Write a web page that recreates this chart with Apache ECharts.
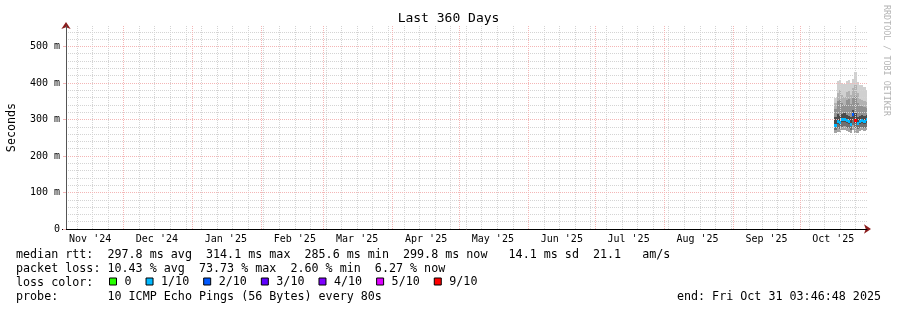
<!DOCTYPE html>
<html><head><meta charset="utf-8">
<script src="https://cdn.jsdelivr.net/npm/echarts@6/dist/echarts.min.js"></script>
<style>html,body{margin:0;padding:0;background:#fff}#c{width:897px;height:310px}</style>
</head><body><div id="c"></div>
<script>
// ---------- data ----------
const endTime = '2025-10-31 03:46:48';
const spanDays = 360;
const yMax = 556;
const yMajorTicks = [0, 100, 200, 300, 400, 500];
const yMinorTicks = [20, 40, 60, 80, 120, 140, 160, 180, 220, 240, 260, 280, 320, 340, 360, 380, 420, 440, 460, 480, 520, 540];
const monthStarts = ['2024-12-01', '2025-01-01', '2025-02-01', '2025-03-01', '2025-04-01', '2025-05-01', '2025-06-01', '2025-07-01', '2025-08-01', '2025-09-01', '2025-10-01'];
const monthLabelDates = ['2024-11-16', '2024-12-16', '2025-01-16', '2025-02-16', '2025-03-16', '2025-04-16', '2025-05-16', '2025-06-16', '2025-07-16', '2025-08-16', '2025-09-16', '2025-10-16'];
const firstSunday = '2024-11-10';

// smoke columns (one per day), values in ms
const colTimes = ['2025-10-16 12:00', '2025-10-17 12:00', '2025-10-18 12:00', '2025-10-19 12:00', '2025-10-20 12:00', '2025-10-21 12:00', '2025-10-22 12:00', '2025-10-23 12:00', '2025-10-24 12:00', '2025-10-25 12:00', '2025-10-26 12:00', '2025-10-27 12:00', '2025-10-28 12:00', '2025-10-29 12:00', '2025-10-30 12:00'];
const pingMin = [262, 266, 265, 270, 272, 268, 266, 262, 270, 262, 264, 268, 270, 268, 270];
const ping2   = [272, 276, 275, 280, 282, 278, 276, 272, 286, 276, 274, 278, 280, 278, 280];
const ping4   = [280, 288, 286, 292, 294, 290, 288, 282, 300, 290, 284, 288, 290, 288, 290];
const ping6   = [306, 314, 310, 316, 318, 312, 310, 308, 326, 320, 306, 310, 312, 310, 312];
const ping8   = [330, 350, 352, 345, 340, 352, 355, 342, 358, 365, 345, 338, 336, 335, 332];
const ping9   = [345, 372, 380, 368, 362, 375, 378, 366, 385, 395, 372, 355, 352, 350, 348];
const pingMax = [360, 404, 408, 401, 396, 404, 407, 400, 410, 430, 402, 394, 394, 388, 382];
const medianRtt = [286, 295, 292, 301, 302, 298, 295, 287, 314, 298, 290, 295, 298, 295, 300];
const lossBucket = ['1/10', '1/10', '1/10', '1/10', '1/10', '1/10', '1/10', '1/10', '2/10', '9/10', '1/10', '1/10', '1/10', '1/10', '1/10'];

const lossNames = ['0', '1/10', '2/10', '3/10', '4/10', '5/10', '9/10'];
const lossColors = ['#26ff00', '#00b8ff', '#0059ff', '#5e00ff', '#7e00ff', '#dd00ff', '#ff0000'];

const legendLines = [
  'median rtt:  297.8 ms avg  314.1 ms max  285.6 ms min  299.8 ms now   14.1 ms sd  21.1   am/s',
  'packet loss: 10.43 % avg  73.73 % max  2.60 % min  6.27 % now',
  'loss color:',
  'probe:       10 ICMP Echo Pings (56 Bytes) every 80s'
];
const endText = 'end: Fri Oct 31 03:46:48 2025';
const titleText = 'Last 360 Days';
const watermark = 'RRDTOOL / TOBI OETIKER';

// ---------- helpers ----------
const DAY = 86400000;
function utc(s) {
  const [d, t] = s.split(' ');
  const [Y, M, D] = d.split('-').map(Number);
  const [h, m, sec] = (t || '0:0:0').split(':').map(Number);
  return Date.UTC(Y, M - 1, D, h || 0, m || 0, sec || 0);
}
const END_TS = utc(endTime);
const START_TS = END_TS - spanDays * DAY;
const weekTs = [];
for (let t = utc(firstSunday); t < END_TS; t += 7 * DAY) weekTs.push(t);
const monthTs = monthStarts.map(utc);
const monthLabelTs = monthLabelDates.map(utc);
const MON = ['Jan','Feb','Mar','Apr','May','Jun','Jul','Aug','Sep','Oct','Nov','Dec'];

const MONO = '"DejaVu Sans Mono", monospace';
const ARROW = '#8b1c1c';
const GRID_MINOR = '#d4d4d4';
const GRID_MAJOR = '#f4b6b6';
const bandColors = ['#a4a4a4', '#707070', '#4c4c4c', '#929292', '#b2b2b2', '#d0d0d0'];

const smokeData = colTimes.map((t, i) => [utc(t), pingMin[i], ping2[i], ping4[i], ping6[i], ping8[i], ping9[i], pingMax[i]]);

function smokeRender(params, api) {
  const t = api.value(0);
  const x0 = Math.round(api.coord([t, 0])[0]);
  const x1 = Math.round(api.coord([Math.min(t + DAY, END_TS), 0])[0]);
  const children = [];
  for (let k = 0; k < 6; k++) {
    const yA = Math.round(api.coord([t, api.value(k + 1)])[1]);
    const yB = Math.round(api.coord([t, api.value(k + 2)])[1]);
    children.push({ type: 'rect', shape: { x: x0, y: yB, width: x1 - x0, height: yA - yB }, style: { fill: bandColors[k] } });
  }
  return { type: 'group', children };
}
function medianRender(params, api) {
  const t = api.value(0);
  const x0 = Math.round(api.coord([t, 0])[0]);
  const x1 = Math.round(api.coord([Math.min(t + DAY, END_TS), 0])[0]);
  const y = Math.round(api.coord([t, api.value(1)])[1]);
  return { type: 'rect', shape: { x: x0, y: y - 1, width: x1 - x0, height: 3 }, style: { fill: api.visual('color') } };
}

const series = [{
  type: 'custom', name: 'smoke', xAxisIndex: 2, yAxisIndex: 2, z: 2, clip: true,
  renderItem: smokeRender, data: smokeData, encode: { x: 0, y: [1, 7] }, silent: true
}];
lossNames.forEach((n, li) => {
  const d = [];
  colTimes.forEach((t, i) => { if (lossBucket[i] === n) d.push([utc(t), medianRtt[i]]); });
  series.push({
    type: 'custom', name: n, xAxisIndex: 2, yAxisIndex: 2, z: 10, clip: true,
    itemStyle: { color: lossColors[li] }, renderItem: medianRender, data: d, encode: { x: 0, y: 1 }, silent: true
  });
});

const textBase = { fontFamily: MONO, fontSize: 11.7, fontWeight: 'normal', color: '#000', lineHeight: 14 };
const lineTops = [247.5, 261.5, 275.5, 289.5];

const option = {
  animation: false,
  backgroundColor: '#fff',
  grid: { left: 66, right: 30, top: 26, bottom: 81, containLabel: false, outerBoundsMode: 'none' },
  title: [
    { text: titleText, left: 'center', top: 11, padding: 0, textStyle: { fontFamily: MONO, fontSize: 13, fontWeight: 'normal', color: '#000', lineHeight: 16 } },
    ...legendLines.map((s, i) => ({ text: s, left: 16, top: lineTops[i], padding: 0, textStyle: textBase })),
    { text: endText, right: 16, top: lineTops[3], padding: 0, textStyle: textBase }
  ],
  legend: {
    data: lossNames, left: 109, top: 275.5, padding: 0, itemGap: 14, itemWidth: 7, itemHeight: 7,
    icon: 'rect', selectedMode: false,
    itemStyle: { borderColor: '#000', borderWidth: 1 },
    textStyle: { fontFamily: MONO, fontSize: 11.7, color: '#000', padding: [0, 0, 0, 3] }
  },
  graphic: [{
    type: 'text', x: 886, y: 5, rotation: -Math.PI / 2, silent: true,
    style: { text: watermark, fill: '#b4b4b4', font: '8.4px ' + MONO, textAlign: 'left', textVerticalAlign: 'middle' }
  }],
  xAxis: [
    { type: 'value', min: START_TS, max: END_TS, position: 'bottom', z: 4,
      axisLine: { show: true, lineStyle: { color: ARROW, width: 1 }, symbol: ['none', 'arrow'], symbolSize: [7, 7], symbolOffset: [0, 4] },
      axisTick: { show: false }, axisLabel: { show: false }, splitLine: { show: false } },
    { type: 'value', min: START_TS, max: END_TS, position: 'bottom', z: 5,
      axisLine: { show: false }, axisTick: { show: false, customValues: weekTs }, axisLabel: { show: false },
      splitLine: { show: true, lineStyle: { color: GRID_MINOR, type: [1, 1], width: 1 } } },
    { type: 'value', min: START_TS, max: END_TS, position: 'bottom', z: 6,
      axisLine: { show: true, lineStyle: { color: '#000', width: 1 } },
      axisTick: { show: false, customValues: monthTs },
      axisLabel: { customValues: monthLabelTs, margin: 5, fontFamily: MONO, fontSize: 10, color: '#000',
        formatter: v => { const d = new Date(v); return MON[d.getUTCMonth()] + " '" + String(d.getUTCFullYear()).slice(2); } },
      splitLine: { show: true, lineStyle: { color: GRID_MAJOR, type: [1, 1], width: 1 } } }
  ],
  yAxis: [
    { type: 'value', min: 0, max: yMax, position: 'left', z: 4,
      axisLine: { show: true, lineStyle: { color: ARROW, width: 1 }, symbol: ['none', 'arrow'], symbolSize: [7, 7], symbolOffset: [0, 4] },
      axisTick: { show: true, customValues: [0], length: 4, lineStyle: { color: '#000' } },
      axisLabel: { show: false }, splitLine: { show: false } },
    { type: 'value', min: 0, max: yMax, position: 'left', z: 5,
      axisLine: { show: false }, axisTick: { show: false, customValues: yMinorTicks }, axisLabel: { show: false },
      splitLine: { show: true, lineStyle: { color: GRID_MINOR, type: [1, 1], width: 1 } } },
    { type: 'value', min: 0, max: yMax, position: 'left', z: 6,
      name: 'Seconds', nameLocation: 'middle', nameRotate: 90, nameGap: 48,
      nameTextStyle: { fontFamily: MONO, fontSize: 11.7, color: '#000' },
      axisLine: { show: true, lineStyle: { color: '#555', width: 1 } },
      axisTick: { show: true, customValues: yMajorTicks, length: 3, lineStyle: { color: GRID_MAJOR } },
      axisLabel: { customValues: yMajorTicks, margin: 6, fontFamily: MONO, fontSize: 10, color: '#000',
        formatter: v => v === 0 ? '0' : v + ' m' },
      splitLine: { show: true, lineStyle: { color: GRID_MAJOR, type: [1, 1], width: 1 } } }
  ],
  series
};
const chart = echarts.init(document.getElementById('c'), null, { renderer: 'canvas' });
chart.setOption(option);
</script></body></html>
